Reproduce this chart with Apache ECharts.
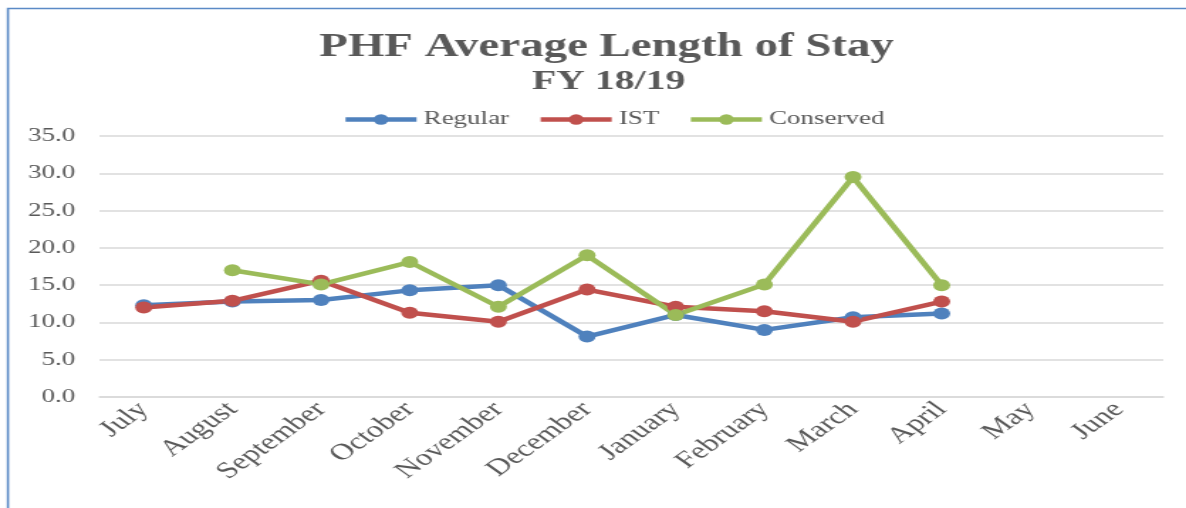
<!DOCTYPE html>
<html>
<head>
<meta charset="utf-8">
<script src="https://cdn.jsdelivr.net/npm/echarts@6/dist/echarts.min.js"></script>
<style>
html,body{margin:0;padding:0;background:#fff;overflow:hidden;}
#wrap{width:1186px;height:508px;overflow:hidden;position:relative;}
#chart{width:835px;height:508px;transform:scaleX(1.4204);transform-origin:0 0;}
</style>
</head>
<body>
<div id="wrap"><div id="chart"></div></div>
<script>
const months = ['July','August','September','October','November','December','January','February','March','April','May','June'];
const regular = [12.3, 12.8, 13.0, 14.3, 15.0, 8.1, 11.0, 9.0, 10.7, 11.2, null, null];
const ist = [12.0, 12.9, 15.6, 11.3, 10.1, 14.4, 12.1, 11.5, 10.1, 12.8, null, null];
const conserved = [null, 17.0, 15.1, 18.1, 12.1, 19.0, 11.0, 15.1, 29.5, 15.0, null, null];
const yTicks = [0, 5, 10, 15, 20, 25, 30, 35];

const serif = "'Liberation Serif', 'DejaVu Serif', serif";
const grey = '#595959';
const chart = echarts.init(document.getElementById('chart'));
function mk(name, data, color) {
  return {
    name: name, type: 'line', data: data, connectNulls: false,
    symbol: 'circle', symbolSize: 12, showSymbol: true,
    lineStyle: {width: 4.5, color: color}, itemStyle: {color: color},
    emphasis: {disabled: true}, animation: false
  };
}
chart.setOption({
  animation: false,
  graphic: [{type: 'polyline', shape: {points: [[5.6, 900], [5.6, 8.5], [2000, 8.5]]}, style: {fill: 'none', stroke: '#5B8AC6', lineWidth: 1.6}, silent: true}],
  title: [
    {text: 'PHF Average Length of Stay', left: 422, textAlign: 'center', top: 26, textStyle: {fontFamily: serif, fontWeight: 'bold', fontSize: 33, color: grey}},
    {text: 'FY 18/19', left: 423.5, textAlign: 'center', top: 63, textStyle: {fontFamily: serif, fontWeight: 'bold', fontSize: 28, color: grey}}
  ],
  legend: {
    left: 236, top: 105, itemWidth: 50, itemHeight: 13, itemGap: 20,
    lineStyle: {width: 4.5},
    textStyle: {fontFamily: serif, fontSize: 19, color: grey},
    data: ['Regular', 'IST', 'Conserved']
  },
  grid: {left: 70, right: 16, top: 136, bottom: 111, containLabel: false},
  xAxis: {
    type: 'category', data: months, boundaryGap: true,
    axisLine: {show: true, lineStyle: {color: '#D9D9D9', width: 1.5}},
    axisTick: {show: false},
    axisLabel: {rotate: 45, interval: 0, margin: 9, fontFamily: serif, fontSize: 23, color: grey}
  },
  yAxis: {
    type: 'value', min: yTicks[0], max: yTicks[yTicks.length - 1], interval: 5,
    axisLine: {show: false}, axisTick: {show: false},
    splitLine: {lineStyle: {color: '#D9D9D9', width: 1.5}},
    axisLabel: {margin: 17, fontFamily: serif, fontSize: 19, color: grey, formatter: v => v.toFixed(1)}
  },
  series: [
    mk('Regular', regular, '#4F81BD'),
    mk('IST', ist, '#C0504D'),
    mk('Conserved', conserved, '#9BBB59')
  ]
});
</script>
</body>
</html>
